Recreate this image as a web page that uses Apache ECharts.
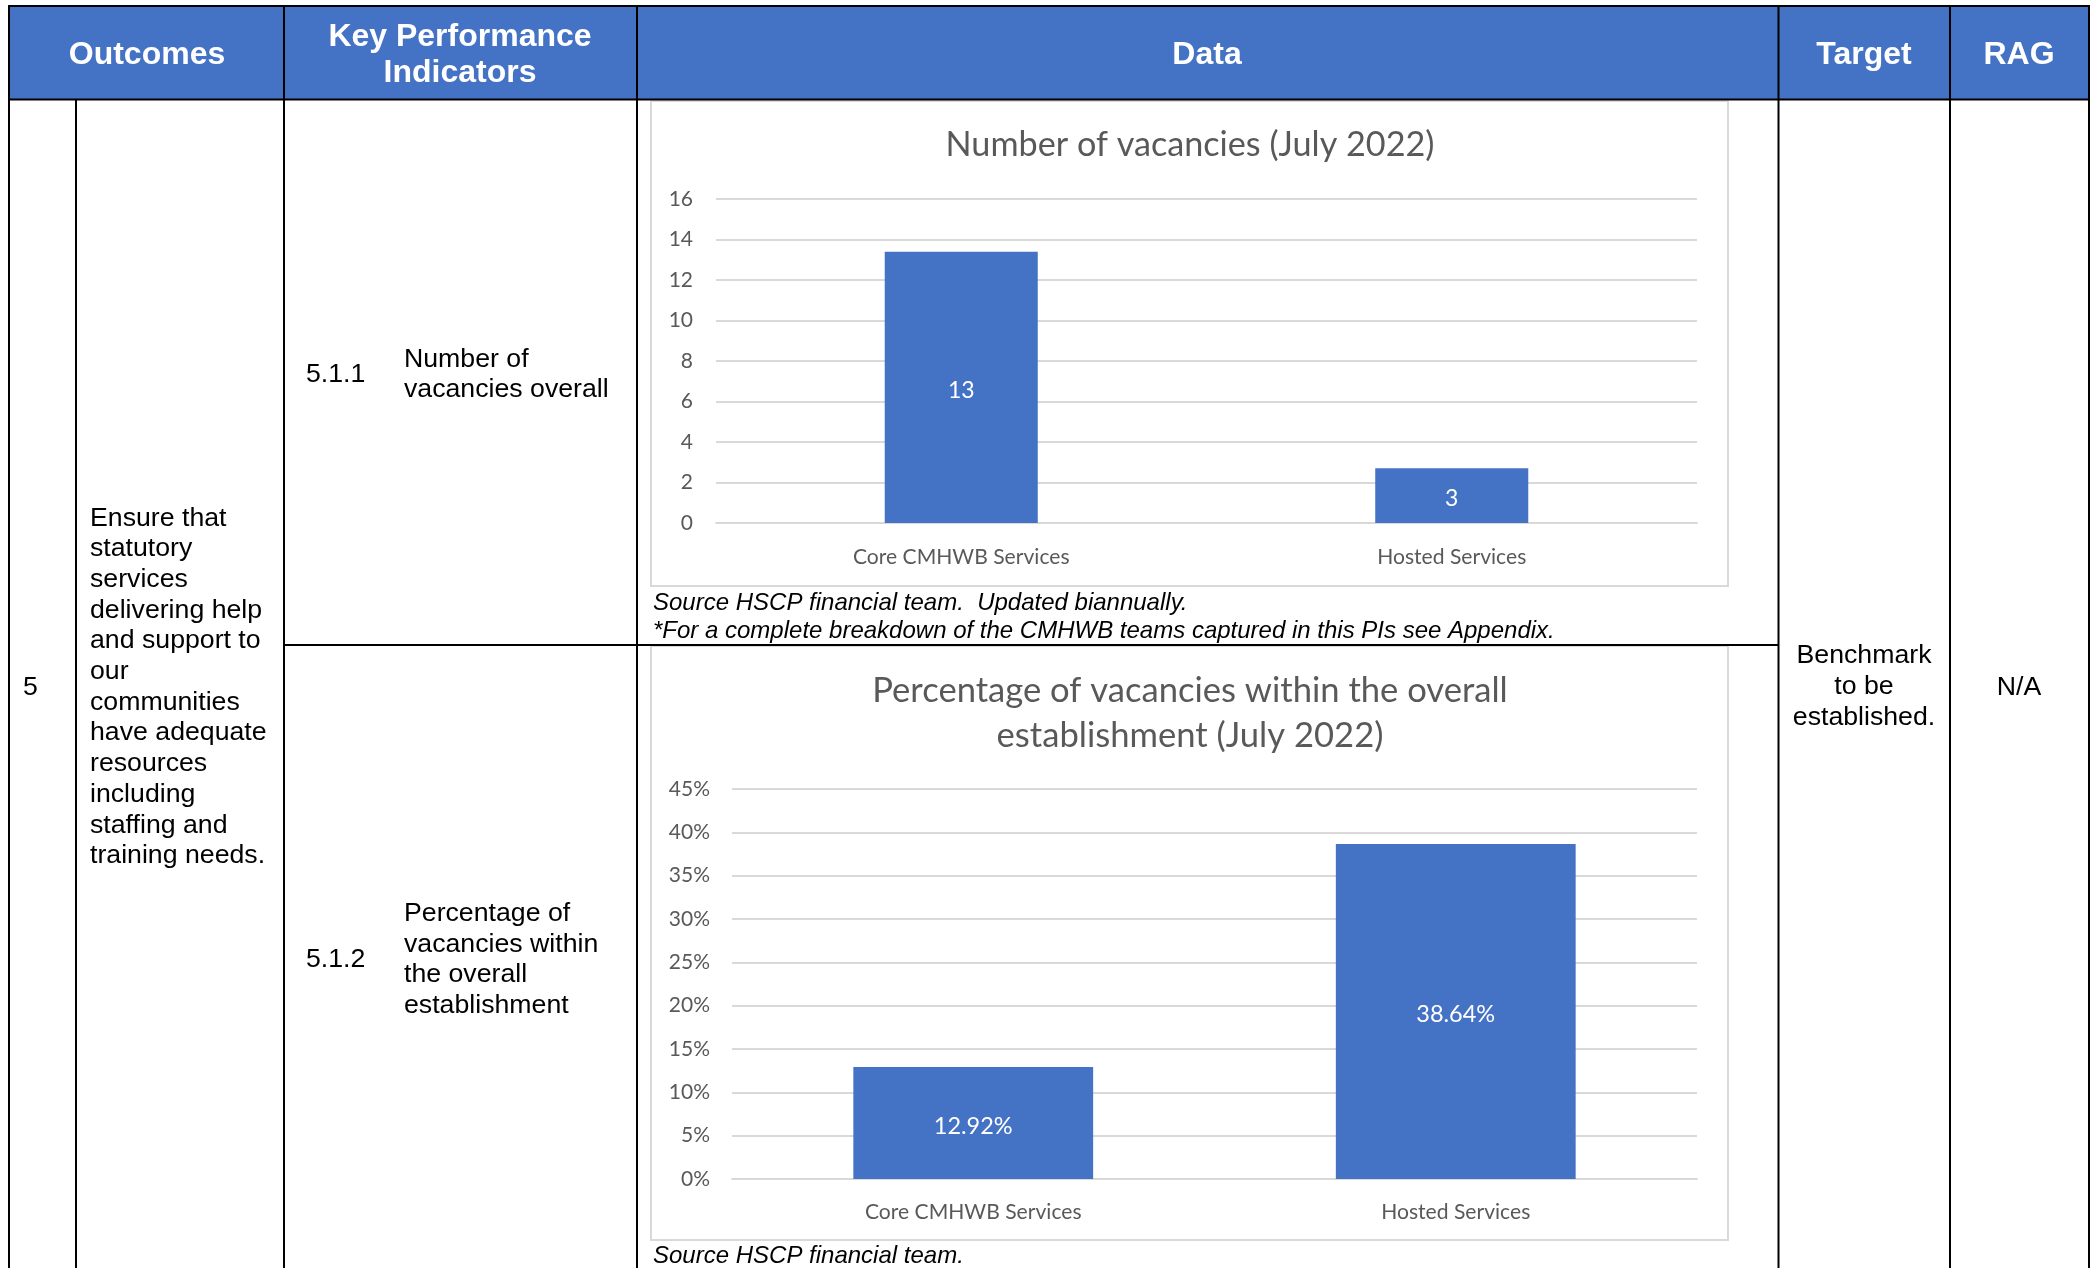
<!DOCTYPE html>
<html><head><meta charset="utf-8">
<script src="https://cdn.jsdelivr.net/npm/echarts@6/dist/echarts.min.js"></script>
<style>html,body{margin:0;padding:0;background:#fff}#c{width:2098px;height:1268px}</style>
</head><body><div id="c"></div><script>
// ---- data ----
const categories = ['Core CMHWB Services', 'Hosted Services'];
const vacancyCounts = [13.4, 2.7];
const vacancyPercents = [12.92, 38.64];
const chartTitles = ['Number of vacancies (July 2022)', 'Percentage of vacancies within the overall\nestablishment (July 2022)'];
const headers = ['Outcomes', 'Key Performance\nIndicators', 'Data', 'Target', 'RAG'];
const outcomeNumber = '5';
const outcomeLines = ['Ensure that', 'statutory', 'services', 'delivering help', 'and support to', 'our', 'communities', 'have adequate', 'resources', 'including', 'staffing and', 'training needs.'];
const kpiCodes = ['5.1.1', '5.1.2'];
const kpiNames = [['Number of', 'vacancies overall'], ['Percentage of', 'vacancies within', 'the overall', 'establishment']];
const sources = [['Source HSCP financial team.  Updated biannually.', '*For a complete breakdown of the CMHWB teams captured in this PIs see Appendix.'], ['Source HSCP financial team.']];
const targetText = ['Benchmark', 'to be', 'established.'];
const ragText = 'N/A';

// ---- styling ----
const BLUE = '#4472C4', GREY = '#595959', GRID = '#d9d9d9';
const TFONT = '"Liberation Sans", Arial, sans-serif';
const CFONT = 'Lato, "Open Sans", sans-serif';

function txt(x, y, text, o) {
  o = o || {};
  return { type: 'text', x: x, y: y, z: 10, style: {
    text: text, fill: o.fill || '#000', fontSize: o.size || 26.7, fontFamily: o.family || TFONT,
    fontWeight: o.weight || 'normal', fontStyle: o.style || 'normal',
    textAlign: o.align || 'left', align: o.align || 'left',
    textVerticalAlign: 'middle', verticalAlign: 'middle', lineHeight: o.lh || 30.7 } };
}
function line(x1, y1, x2, y2, w) {
  return { type: 'line', z: 5, shape: { x1: x1, y1: y1, x2: x2, y2: y2 }, style: { stroke: '#000', lineWidth: w || 2 } };
}

const X = { L: 9, IN: 76, KPI: 284, DATA: 637, TGT: 1778.5, RAG: 1950, R: 2089 };
const Y = { T: 6, H: 99.5, ROW: 645, B: 1300 };

const graphic = [
  { type: 'rect', z: 1, shape: { x: X.L, y: Y.T, width: X.R - X.L, height: Y.H - Y.T }, style: { fill: BLUE } },
  // chart boxes
  { type: 'rect', z: 2, shape: { x: 651, y: 101, width: 1077, height: 485 }, style: { fill: '#fff', stroke: GRID, lineWidth: 2 } },
  { type: 'rect', z: 2, shape: { x: 651, y: 646, width: 1077, height: 594 }, style: { fill: '#fff', stroke: GRID, lineWidth: 2 } },
  line(X.L - 1, Y.T, X.R + 1, Y.T),
  line(X.L - 1, Y.H, X.R + 1, Y.H),
  line(X.L, Y.T, X.L, Y.B), line(X.KPI, Y.T, X.KPI, Y.B), line(X.DATA, Y.T, X.DATA, Y.B),
  line(X.TGT, Y.T, X.TGT, Y.B), line(X.RAG, Y.T, X.RAG, Y.B), line(X.R, Y.T, X.R, Y.B),
  line(X.IN, Y.H, X.IN, Y.B),
  line(X.KPI, Y.ROW, X.TGT, Y.ROW),
  // header
  txt(147, 55.5, headers[0], { fill: '#fff', weight: 'bold', size: 32, align: 'center' }),
  txt(460, 55, headers[1], { fill: '#fff', weight: 'bold', size: 32, align: 'center', lh: 36 }),
  txt(1207, 55.5, headers[2], { fill: '#fff', weight: 'bold', size: 32, align: 'center' }),
  txt(1864, 55.5, headers[3], { fill: '#fff', weight: 'bold', size: 32, align: 'center' }),
  txt(2019, 55.5, headers[4], { fill: '#fff', weight: 'bold', size: 32, align: 'center' }),
  // body
  txt(23, 688, outcomeNumber),
  txt(90, 687, outcomeLines.join('\n')),
  txt(306, 375, kpiCodes[0]),
  txt(404, 374.5, kpiNames[0].join('\n')),
  txt(306, 960, kpiCodes[1]),
  txt(404, 959.5, kpiNames[1].join('\n'), { lh: 30.5 }),
  txt(1864, 687, targetText.join('\n'), { align: 'center', lh: 31 }),
  txt(2019, 688, ragText, { align: 'center' }),
  txt(653, 617.5, sources[0].join('\n'), { style: 'italic', size: 24, lh: 28 }),
  txt(653, 1256.5, sources[1].join('\n'), { style: 'italic', size: 24, lh: 28 })
];

const axisLabelStyle = { color: GREY, fontFamily: CFONT, fontSize: 21 };

const option = {
  animation: false,
  backgroundColor: '#fff',
  graphic: graphic,
  title: [
    { text: chartTitles[0], left: 1185, top: 117.5, textAlign: 'center', z: 20,
      textStyle: { color: GREY, fontFamily: CFONT, fontWeight: 'normal', fontSize: 34.2, lineHeight: 45 } },
    { text: chartTitles[1], left: 1185, top: 663.5, textAlign: 'center', z: 20,
      textStyle: { color: GREY, fontFamily: CFONT, fontWeight: 'normal', fontSize: 34.6, lineHeight: 45 } }
  ],
  grid: [
    { left: 716, top: 199, width: 981, height: 324, z: 20 },
    { left: 732, top: 789, width: 965, height: 390, z: 20 }
  ],
  xAxis: [
    { type: 'category', gridIndex: 0, data: categories, z: 20,
      axisLine: { lineStyle: { color: GRID, width: 2 } }, axisTick: { show: false },
      axisLabel: { margin: 23.5, fontSize: 21.1, color: GREY, fontFamily: CFONT } },
    { type: 'category', gridIndex: 1, data: categories, z: 20,
      axisLine: { lineStyle: { color: GRID, width: 2 } }, axisTick: { show: false },
      axisLabel: { margin: 22.5, fontSize: 21.1, color: GREY, fontFamily: CFONT } }
  ],
  yAxis: [
    { type: 'value', gridIndex: 0, min: 0, max: 16, interval: 2, z: 20,
      axisLine: { show: false }, axisTick: { show: false },
      splitLine: { lineStyle: { color: GRID, width: 2 } },
      axisLabel: Object.assign({ margin: 23 }, axisLabelStyle) },
    { type: 'value', gridIndex: 1, min: 0, max: 45, interval: 5, z: 20,
      axisLine: { show: false }, axisTick: { show: false },
      splitLine: { lineStyle: { color: GRID, width: 2 } },
      axisLabel: Object.assign({ margin: 22, formatter: '{value}%' }, axisLabelStyle) }
  ],
  series: [
    { type: 'bar', xAxisIndex: 0, yAxisIndex: 0, data: vacancyCounts, barWidth: '31.2%', z: 20,
      itemStyle: { color: BLUE },
      label: { show: true, position: 'inside', offset: [0, 3], color: '#fff', fontFamily: CFONT, fontSize: 23,
        formatter: function (p) { return Math.round(p.value); } } },
    { type: 'bar', xAxisIndex: 1, yAxisIndex: 1, data: vacancyPercents, barWidth: '49.7%', z: 20,
      itemStyle: { color: BLUE },
      label: { show: true, position: 'inside', offset: [0, 3], color: '#fff', fontFamily: CFONT, fontSize: 23.5,
        formatter: function (p) { return p.value.toFixed(2) + '%'; } } }
  ]
};

const chart = echarts.init(document.getElementById('c'), null, { renderer: 'canvas' });
chart.setOption(option);
</script></body></html>
